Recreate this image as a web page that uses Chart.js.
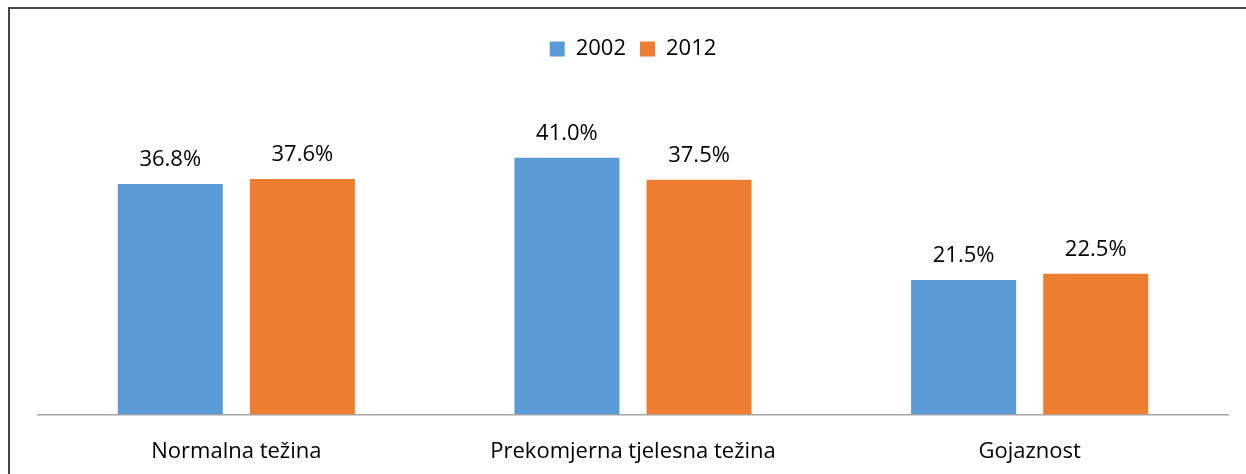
<!DOCTYPE html>
<html>
<head>
<meta charset="utf-8">
<script src="https://cdn.jsdelivr.net/npm/chart.js@4.4.1/dist/chart.umd.min.js"></script>
<style>
  html, body { margin: 0; padding: 0; background: #fff; }
  #wrap { position: relative; width: 1246px; height: 474px; overflow: hidden; }
  #frameTop { position: absolute; left: 8px; top: 7px; width: 1238px; height: 2px; background: #444; }
  #frameLeft { position: absolute; left: 8px; top: 7px; width: 2px; height: 467px; background: #444; }
  canvas { position: absolute; left: 0; top: 0; }
</style>
</head>
<body>
<div id="wrap">
  <canvas id="c" width="1246" height="474"></canvas>
  <div id="frameTop"></div>
  <div id="frameLeft"></div>
</div>
<script>
// Categories and share of population per survey year (percent)
const categories = ['Normalna težina', 'Prekomjerna tjelesna težina', 'Gojaznost'];
const years = ['2002', '2012'];
const values2002 = [36.8, 41.0, 21.5];
const values2012 = [37.6, 37.5, 22.5];

const FONT = '"Open Sans", Lato, sans-serif';

// Writes the value above each bar
const valueLabels = {
  id: 'valueLabels',
  afterDatasetsDraw(chart) {
    const ctx = chart.ctx;
    ctx.save();
    ctx.font = '22px ' + FONT;
    ctx.fillStyle = '#000';
    ctx.textAlign = 'center';
    ctx.textBaseline = 'bottom';
    chart.data.datasets.forEach((ds, i) => {
      chart.getDatasetMeta(i).data.forEach((bar, j) => {
        ctx.fillText(ds.data[j].toFixed(1) + '%', bar.x, bar.y - 13);
      });
    });
    ctx.restore();
  }
};

new Chart(document.getElementById('c'), {
  type: 'bar',
  data: {
    labels: categories,
    datasets: [
      { label: years[0], data: values2002, backgroundColor: '#5B9BD5' },
      { label: years[1], data: values2012, backgroundColor: '#ED7D31' }
    ]
  },
  options: {
    responsive: false,
    animation: false,
    layout: { padding: { left: 38, right: 18, top: 24, bottom: -15 } },
    datasets: { bar: { categoryPercentage: 0.666, barPercentage: 0.795 } },
    plugins: {
      legend: {
        position: 'top',
        labels: {
          font: { family: FONT, size: 22 },
          color: '#000',
          boxWidth: 15,
          boxHeight: 15,
          padding: 14
        }
      },
      tooltip: { enabled: false }
    },
    scales: {
      x: {
        grid: { display: false, drawTicks: false },
        border: { display: true, color: '#a6a6a6', width: 1.5 },
        ticks: { font: { family: FONT, size: 22 }, color: '#000', padding: 24 }
      },
      y: {
        display: false,
        min: 0,
        max: 55
      }
    }
  },
  plugins: [valueLabels]
});
</script>
</body>
</html>
